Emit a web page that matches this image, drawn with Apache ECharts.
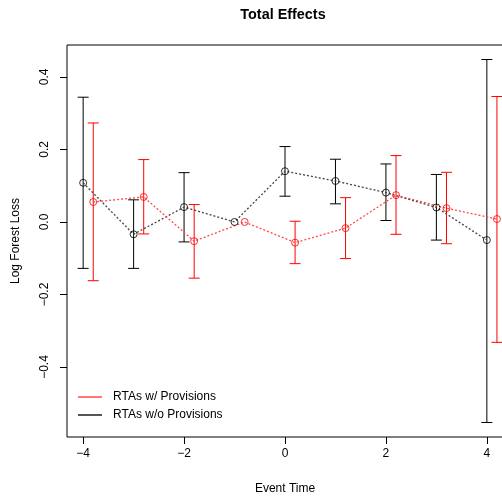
<!DOCTYPE html>
<html>
<head>
<meta charset="utf-8">
<script src="https://cdn.jsdelivr.net/npm/echarts@6/dist/echarts.min.js"></script>
<style>
html, body { margin: 0; padding: 0; background: #fff; overflow: hidden; }
#chart { width: 504px; height: 496px; }
</style>
</head>
<body>
<div id="chart"></div>
<script>
// event times (red series is drawn shifted right by 0.2)
var blackTime = [-4, -3, -2, -1, 0, 1, 2, 3, 4];
var redTime = [-3.8, -2.8, -1.8, -0.8, 0.2, 1.2, 2.2, 3.2, 4.2];

// RTAs w/o Provisions
var blackEst = [0.108, -0.034, 0.041, 0, 0.140, 0.113, 0.081, 0.040, -0.050];
var blackLo = [-0.128, -0.128, -0.055, null, 0.071, 0.050, 0.004, -0.050, -0.553];
var blackHi = [0.344, 0.061, 0.136, null, 0.208, 0.173, 0.160, 0.131, 0.448];

// RTAs w/ Provisions
var redEst = [0.055, 0.069, -0.053, 0, -0.057, -0.017, 0.074, 0.038, 0.008];
var redLo = [-0.162, -0.033, -0.155, null, -0.115, -0.101, -0.034, -0.060, -0.332];
var redHi = [0.273, 0.172, 0.048, null, 0.002, 0.067, 0.183, 0.137, 0.346];

var xTicks = [-4, -2, 0, 2, 4];
var yTicks = [-0.4, -0.2, 0, 0.2, 0.4];

var nameRed = 'RTAs w/ Provisions';
var nameBlack = 'RTAs w/o Provisions';
var font = 'Liberation Sans, Arial, Helvetica, sans-serif';

function pairs(xs, ys) {
    return xs.map(function (x, i) { return [x, ys[i]]; });
}

function bars(xs, lo, hi) {
    var out = [];
    xs.forEach(function (x, i) {
        if (lo[i] !== null && hi[i] !== null) out.push([x, lo[i], hi[i]]);
    });
    return out;
}

function renderBar(params, api) {
    var top = api.coord([api.value(0), api.value(2)]);
    var bot = api.coord([api.value(0), api.value(1)]);
    var color = api.visual('color');
    var cap = 5.5;
    var st = {stroke: color, lineWidth: 1};
    return {
        type: 'group',
        children: [
            {type: 'line', shape: {x1: top[0], y1: top[1], x2: bot[0], y2: bot[1]}, style: st},
            {type: 'line', shape: {x1: top[0] - cap, y1: top[1], x2: top[0] + cap, y2: top[1]}, style: st},
            {type: 'line', shape: {x1: bot[0] - cap, y1: bot[1], x2: bot[0] + cap, y2: bot[1]}, style: st}
        ]
    };
}

function minus(s) {
    return s.replace('-', '\u2212');
}

var chart = echarts.init(document.getElementById('chart'));
chart.setOption({
    animation: false,
    backgroundColor: '#fff',
    title: {
        text: 'Total Effects',
        left: 278,
        top: 3,
        textAlign: 'center',
        textStyle: {fontFamily: font, fontSize: 14.4, fontWeight: 'bold', color: '#000'}
    },
    legend: {
        orient: 'vertical',
        left: 73,
        top: 386,
        icon: 'rect',
        itemWidth: 24,
        itemHeight: 2,
        itemGap: 6,
        textStyle: {fontFamily: font, fontSize: 12, color: '#000', padding: [0, 0, 0, 6]},
        data: [
            {name: nameRed, itemStyle: {color: '#ff7878'}},
            {name: nameBlack, itemStyle: {color: '#555'}}
        ]
    },
    grid: {
        left: 67,
        right: 1,
        top: 45,
        bottom: 59,
        outerBoundsMode: 'none',
        show: true,
        borderColor: '#000',
        borderWidth: 1
    },
    xAxis: {
        type: 'value',
        min: -4.32,
        max: 4.32,
        name: 'Event Time',
        nameLocation: 'middle',
        nameGap: 46,
        nameTextStyle: {fontFamily: font, fontSize: 12, color: '#000'},
        splitLine: {show: false},
        axisLine: {show: false, onZero: false},
        axisTick: {show: true, length: 7, lineStyle: {color: '#000'}, customValues: xTicks},
        axisLabel: {
            fontFamily: font, fontSize: 12, color: '#000', margin: 11,
            customValues: xTicks,
            formatter: function (v) { return minus(String(v)); }
        }
    },
    yAxis: {
        type: 'value',
        min: -0.593,
        max: 0.488,
        name: 'Log Forest Loss',
        nameLocation: 'middle',
        nameRotate: 90,
        nameGap: 45,
        nameTextStyle: {fontFamily: font, fontSize: 12, color: '#000'},
        splitLine: {show: false},
        axisLine: {show: false, onZero: false},
        axisTick: {show: true, length: 7, lineStyle: {color: '#000'}, customValues: yTicks},
        axisLabel: {
            fontFamily: font, fontSize: 12, color: '#000', margin: 16, rotate: 90,
            customValues: yTicks,
            formatter: function (v) { return minus(v.toFixed(1)); }
        }
    },
    series: [
        {
            name: nameBlack,
            type: 'custom',
            renderItem: renderBar,
            itemStyle: {color: '#000'},
            data: bars(blackTime, blackLo, blackHi),
            z: 2
        },
        {
            name: nameRed,
            type: 'custom',
            renderItem: renderBar,
            itemStyle: {color: '#ff0000'},
            data: bars(redTime, redLo, redHi),
            z: 2
        },
        {
            name: nameBlack,
            type: 'line',
            data: pairs(blackTime, blackEst),
            showSymbol: false,
            symbol: 'none',
            lineStyle: {color: '#444', width: 1.3, type: [2, 2]},
            z: 3
        },
        {
            name: nameRed,
            type: 'line',
            data: pairs(redTime, redEst),
            showSymbol: false,
            symbol: 'none',
            lineStyle: {color: '#ff4a4a', width: 1.3, type: [2, 2]},
            z: 3
        },
        {
            name: nameBlack,
            type: 'scatter',
            data: pairs(blackTime, blackEst),
            symbol: 'circle',
            symbolSize: 7,
            itemStyle: {color: 'rgba(0,0,0,0)', borderColor: '#000', borderWidth: 1},
            z: 4
        },
        {
            name: nameRed,
            type: 'scatter',
            data: pairs(redTime, redEst),
            symbol: 'circle',
            symbolSize: 7,
            itemStyle: {color: 'rgba(0,0,0,0)', borderColor: '#ff0000', borderWidth: 1},
            z: 4
        }
    ]
});
</script>
</body>
</html>
